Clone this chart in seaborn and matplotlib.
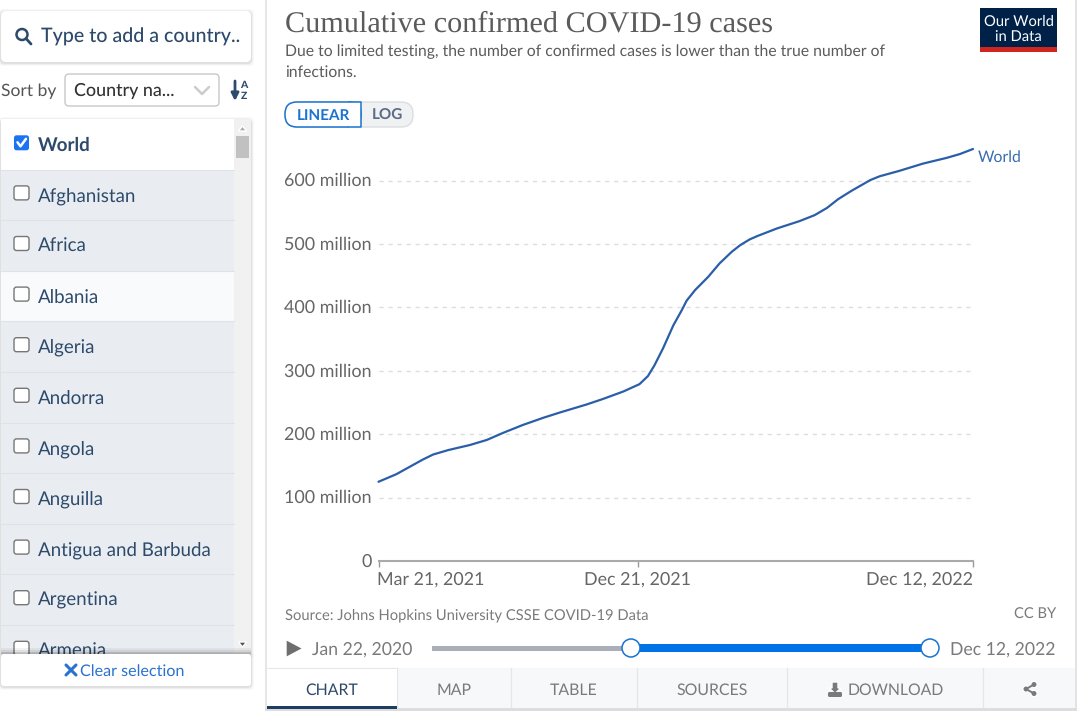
import seaborn as sns
import matplotlib.pyplot as plt
import pandas as pd
from matplotlib.patches import Rectangle, FancyBboxPatch, Circle, Polygon
from matplotlib.transforms import ScaledTranslation

# Values (cases in millions)
dates = ["2021-03-21", "2021-04-09", "2021-05-07", "2021-05-18", "2021-06-03", "2021-06-26",
         "2021-07-14", "2021-07-31", "2021-08-21", "2021-09-12", "2021-09-30", "2021-10-28",
         "2021-11-14", "2021-12-06", "2021-12-23", "2022-01-01", "2022-01-08", "2022-01-17",
         "2022-01-28", "2022-02-06", "2022-02-11", "2022-02-20", "2022-03-06", "2022-03-18",
         "2022-03-31", "2022-04-09", "2022-04-19", "2022-04-27", "2022-05-18", "2022-06-11",
         "2022-06-27", "2022-07-10", "2022-07-22", "2022-08-05", "2022-08-25", "2022-09-04",
         "2022-09-25", "2022-10-20", "2022-11-14", "2022-11-28", "2022-12-12"]
cases = [125, 137, 160, 168, 175, 183,
         191, 202, 214.5, 226, 234.5, 247,
         255.5, 267.5, 279, 291.8, 309, 335.5,
         372, 396, 410.6, 427.4, 448.4, 469.5,
         487.9, 498.4, 507.4, 512.6, 524.7, 536.3,
         545.7, 557, 571, 584, 601, 607,
         615.6, 627, 636, 642, 650]
y_ticks = [0, 100, 200, 300, 400, 500, 600]
y_labels = ["0", "100 million", "200 million", "300 million", "400 million", "500 million", "600 million"]
x_ticks = ["2021-03-21", "2021-12-21", "2022-12-12"]
x_labels = ["Mar 21, 2021", "Dec 21, 2021", "Dec 12, 2022"]
countries = ["World", "Afghanistan", "Africa", "Albania", "Algeria", "Andorra", "Angola",
             "Anguilla", "Antigua and Barbuda", "Argentina", "Armenia"]
tabs = ["CHART", "MAP", "TABLE", "SOURCES", "DOWNLOAD"]
tab_edges = [267, 397, 511, 637, 787, 983, 1075]

df = pd.DataFrame({"date": pd.to_datetime(dates), "cases": cases})

sns.set_theme(style="white")
plt.rcParams["font.family"] = ["Lato", "DejaVu Sans"]
plt.rcParams["text.hinting"] = "no_hinting"

W, H = 1079, 714
fig = plt.figure(figsize=(W / 100, H / 100), dpi=100, facecolor="white")

# Page furniture is drawn on a full-size axes in pixel coordinates
ui = fig.add_axes([0, 0, 1, 1], zorder=0)
ui.set_xlim(0, W)
ui.set_ylim(H, 0)
ui.axis("off")

NAVY = "#2d4a6b"
GREY = "#7a7a7a"
BLUE = "#0073e6"


def rect(x0, y0, x1, y1, color, z=1, **kw):
    ui.add_patch(Rectangle((x0, y0), x1 - x0, y1 - y0, facecolor=color, edgecolor="none", zorder=z, **kw))


def rbox(x0, y0, x1, y1, face="white", edge="none", r=4, z=2, lw=1.0):
    ui.add_patch(FancyBboxPatch((x0 + r, y0 + r), x1 - x0 - 2 * r, y1 - y0 - 2 * r,
                                boxstyle=f"round,pad={r},rounding_size={r}",
                                facecolor=face, edgecolor=edge, linewidth=lw, zorder=z))


def shadow(x0, y0, x1, y1, z=1):
    for grow, alpha in [(3, 0.025), (2, 0.04), (1, 0.06)]:
        rbox(x0 - grow, y0 - grow + 1, x1 + grow, y1 + grow + 1, face=(0, 0, 0, alpha), r=5, z=z)


def label(x, y, s, size=14, color=NAVY, ha="left", z=6, **kw):
    ui.text(x, y + 1.5, s, fontsize=size, color=color, ha=ha, va="center", zorder=z, **kw)


# search box
shadow(1, 11, 251, 62)
rbox(1, 11, 251, 62, r=5)
ui.add_patch(Circle((22, 34.5), 5.5, facecolor="none", edgecolor=NAVY, linewidth=1.8, zorder=5))
ui.plot([26, 31], [38.5, 44], color=NAVY, lw=2.0, zorder=5, solid_capstyle="round")
label(41, 35.5, "Type to add a country..", size=14.1, weight="medium")

# sort controls
label(1, 89.5, "Sort by", size=12.6, color="#555555")
rbox(65, 74, 219, 106, edge="#c8c8c8", r=4)
label(74, 89.5, "Country na...", size=12.9, color="#333333", weight="medium")
ui.plot([195, 202, 209], [87, 94, 87], color="#cccccc", lw=1.8, zorder=5)
ui.annotate("", xy=(235, 101), xytext=(235, 81),
            arrowprops=dict(arrowstyle="-|>", color=NAVY, lw=2.0, mutation_scale=11, shrinkA=0, shrinkB=0), zorder=5)
label(243.5, 83.5, "A", size=7.5, color=NAVY, ha="center", weight="black")
label(243.5, 94.5, "Z", size=7.5, color=NAVY, ha="center", weight="black")

# country list
shadow(1, 119, 251, 655)
rect(1, 119, 234, 654, "#e9edf2", z=2)
rect(234, 119, 251, 654, "#f1f1f1", z=2)
rect(236, 136, 249, 158, "#c1c1c1", z=3)
ui.add_patch(Polygon([[238.5, 131], [246.5, 131], [242.5, 126]], facecolor="#a8a8a8", zorder=3))
ui.add_patch(Polygon([[238.5, 642], [246.5, 642], [242.5, 647]], facecolor="#505050", zorder=3))
ROW_H = 50.6
for i, name in enumerate(countries):
    top = 119 + i * ROW_H
    if i == 0:
        rect(1, top, 234, top + ROW_H, "white", z=2)
    if name == "Albania":
        rect(1, top, 234, top + ROW_H, "#f8fafc", z=2)
    if i > 0:
        ui.plot([1, 234], [top, top], color="#dfe3e8", lw=0.8, zorder=3)
    cy = top + ROW_H / 2 - 2
    if i == 0:
        rbox(14, cy - 7, 29, cy + 8, face="#1a73f0", r=2.5, z=4)
        ui.plot([17.5, 20.5, 26], [cy, cy + 4, cy - 3.5], color="white", lw=1.8, zorder=5)
    else:
        rbox(14, cy - 7, 29, cy + 7, face="white", edge="#767676", r=2.5, z=4, lw=1.0)
    label(38, top + ROW_H / 2 - 0.5, name, size=13.5, weight="bold" if i == 0 else "normal", z=4)

# clear selection footer
for grow, alpha in [(6, 0.05), (4, 0.07), (2, 0.10)]:
    rect(1, 654 - grow, 251, 654, "black", z=7, alpha=alpha)
shadow(1, 654, 251, 686, z=7)
rbox(1, 654, 251, 686, r=3, z=8)
ui.plot([66, 76], [665, 675], color="#2a72d0", lw=2.2, zorder=9)
ui.plot([66, 76], [675, 665], color="#2a72d0", lw=2.2, zorder=9)
label(80, 669.5, "Clear selection", size=11.6, color="#2a72d0", z=9)

# chart card
rect(265, 0, 267, 708, "#e6e6e6", z=1)
rect(1075, 0, 1077, 708, "#e3e3e3", z=1)
rect(265, 708, 1077, 711, "#dddddd", z=1)

# header
ui.text(285, 24, "Cumulative confirmed COVID-19 cases", fontsize=21.8, color="#5b5b5b",
        family=["Liberation Serif", "DejaVu Serif"], va="center", zorder=6)
label(285, 50, "Due to limited testing, the number of confirmed cases is lower than the true number of",
      size=11.3, color="#5b5b5b")
label(285, 70.5, "infections.", size=11.3, color="#5b5b5b")

# logo
rect(980, 8, 1057, 47, "#002147", z=3)
rect(980, 47, 1057, 52, "#ce261e", z=3)
label(1018.5, 20, "Our World", size=10.6, color="white", ha="center")
label(1018.5, 36, "in Data", size=10.6, color="white", ha="center")

# linear / log toggle
rbox(285, 102, 413, 127, face="#f0f1f3", edge="#dcdde0", r=12, z=2)
ui.add_patch(FancyBboxPatch((297, 114), 52, 1, boxstyle="round,pad=12,rounding_size=12",
                            facecolor="white", edgecolor="#1a73d0", linewidth=1.1, zorder=3))
rect(349, 102, 361, 127.5, "white", z=3)
ui.plot([349, 361, 361, 349], [102, 102, 127, 127], color="#1a73d0", lw=1.1, zorder=4)
label(323, 114.5, "LINEAR", size=11, color="#1a73d0", ha="center", weight="bold")
label(387, 114.5, "LOG", size=11, color="#5b6b84", ha="center", weight="bold")

# source line
label(285, 613.5, "Source: Johns Hopkins University CSSE COVID-19 Data", size=10.65, color=GREY)
label(1056, 613.5, "CC BY", size=10.65, color=GREY, ha="right")

# timeline
ui.add_patch(Polygon([[286, 639.5], [286, 657.5], [303, 648.5]], facecolor="#6e6e6e", zorder=4))
label(312, 647.5, "Jan 22, 2020", size=12.7, color=GREY)
label(1055, 647.5, "Dec 12, 2022", size=12.7, color=GREY, ha="right")
rect(432, 645.5, 631, 650.5, "#a9aeb9", z=3)
rect(631, 644, 930, 652, BLUE, z=3)
for hx in [631, 930]:
    ui.add_patch(Circle((hx, 648), 9, facecolor="white", edgecolor="#1a73d0", linewidth=1.1, zorder=4))

# tabs
rect(397, 668, 1075, 708, "#f7f8fa", z=2)
ui.plot([267, 1075], [668, 668], color="#e4e6ea", lw=0.8, zorder=1)
for edge in tab_edges[1:6]:
    ui.plot([edge, edge], [668, 708], color="#e4e6ea", lw=0.9, zorder=3)
rect(267, 668.5, 397, 706, "white", z=3)
rect(267, 706, 397, 708.5, "#1d3d63", z=4)
for i, tab in enumerate(tabs):
    cx = (tab_edges[i] + tab_edges[i + 1]) / 2
    if tab == "DOWNLOAD":
        label(848, 688.5, tab, size=11.3, color=GREY)
    else:
        label(cx, 688.5, tab, size=11.4, color=NAVY if i == 0 else GREY, ha="center")
# download icon
ui.add_patch(Polygon([[832, 682], [838, 682], [838, 688], [841, 688], [835, 693.5], [829, 688], [832, 688]],
                     facecolor=GREY, zorder=5))
rbox(828, 692, 842, 697, face=GREY, r=1.5, z=5)
# share icon
for sx, sy in [(1026, 689), (1034, 684.5), (1034, 693.5)]:
    ui.add_patch(Circle((sx, sy), 3.2, facecolor=GREY, zorder=5))
ui.plot([1034, 1026, 1034], [684.5, 689, 693.5], color=GREY, lw=1.4, zorder=5)

# The chart itself
AX_L, AX_R, AX_TOP, AX_BOT = 378.5, 973, 149, 561
ax = fig.add_axes([AX_L / W, 1 - AX_BOT / H, (AX_R - AX_L) / W, (AX_BOT - AX_TOP) / H], zorder=2)
ax.patch.set_alpha(0)

sns.lineplot(data=df, x="date", y="cases", ax=ax, color="#2b5ea8", linewidth=1.6, clip_on=False, zorder=3)

ax.set_xlim(pd.Timestamp(x_ticks[0]), pd.Timestamp(x_ticks[-1]))
ax.set_ylim(0, 650)
ax.set_xlabel("")
ax.set_ylabel("")

for tick in y_ticks[1:]:
    ax.axhline(tick, color="#dddddd", lw=1.0, dashes=(3, 3.5), zorder=1)

ax.set_yticks(y_ticks, y_labels)
ax.tick_params(axis="y", length=0, pad=5, labelsize=12.9, labelcolor="#666666")
ax.set_xticks(pd.to_datetime(x_ticks), x_labels)
ax.tick_params(axis="x", bottom=True, length=4, width=1, color="#999999", pad=3.2, labelsize=12.85, labelcolor="#666666")
for tick_label, align in zip(ax.get_xticklabels(), ["left", "center", "right"]):
    tick_label.set_ha(align)
# small nudges so the labels sit where the reference has them
ax.get_xticklabels()[0].set_transform(ax.get_xticklabels()[0].get_transform()
                                      + ScaledTranslation(-0.015, 0, fig.dpi_scale_trans))
for tick_label in ax.get_yticklabels():
    tick_label.set_transform(tick_label.get_transform() + ScaledTranslation(0, 0.01, fig.dpi_scale_trans))

sns.despine(ax=ax, left=True, top=True, right=True)
ax.spines["bottom"].set_color("#aaaaaa")
ax.spines["bottom"].set_linewidth(1.5)

ax.annotate("World", xy=(df["date"].iloc[-1], cases[-1]), xytext=(5, -8), textcoords="offset pixels",
            annotation_clip=False, color="#3a6cb0", fontsize=11.4, va="center")

fig.savefig("out.png", dpi=100)
